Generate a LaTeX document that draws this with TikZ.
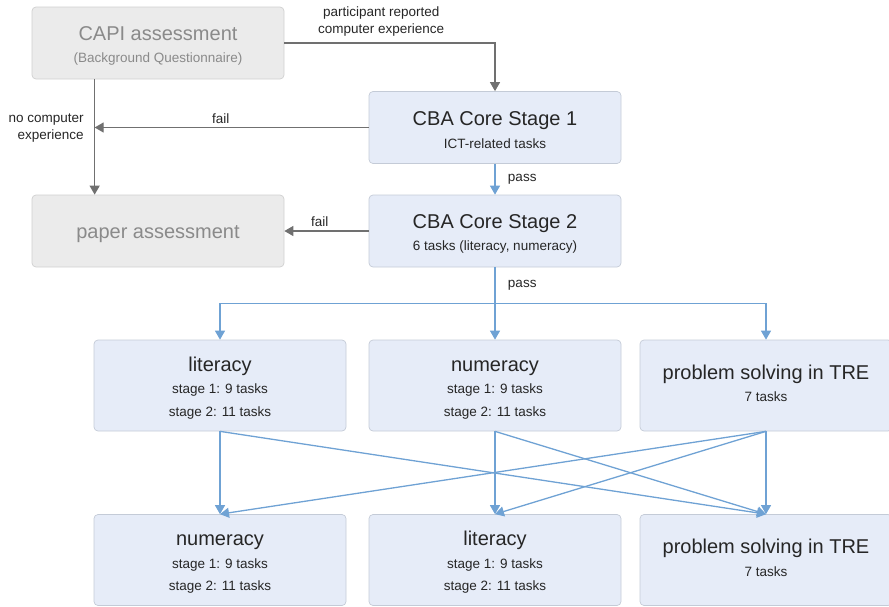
\documentclass[tikz,border=0pt]{standalone}
\usepackage{fontspec}
\setmainfont{Liberation Sans}
\usetikzlibrary{arrows.meta}

\definecolor{boxblue}{RGB}{230,236,248}
\definecolor{boxblueline}{RGB}{196,203,215}
\definecolor{boxgray}{RGB}{235,235,235}
\definecolor{boxgrayline}{RGB}{208,208,208}
\definecolor{txtgray}{RGB}{138,138,138}
\definecolor{arrowgray}{RGB}{112,112,112}
\definecolor{arrowblue}{RGB}{111,162,212}

\newcommand{\titlesize}{\fontsize{20}{22}\selectfont}
\newcommand{\subsize}{\fontsize{13.5}{22.5}\selectfont}
\newcommand{\labelsize}{\fontsize{13.5}{17}\selectfont}
\newcommand{\boxtitle}[1]{{\titlesize\rule{0pt}{19.5pt}#1}}
\newcommand{\lowpad}{\rule[-10pt]{0pt}{10pt}}

\begin{document}
\begin{tikzpicture}[x=1pt, y=-1pt,
		box/.style={rounded corners=4pt, minimum width=252pt, minimum height=72pt, inner sep=0pt, align=center, font=\subsize, line width=0.7pt},
		graybox/.style={box, draw=boxgrayline, fill=boxgray, text=txtgray},
		bluebox/.style={box, draw=boxblueline, fill=boxblue, text=black!85},
		tallbox/.style={bluebox, minimum height=91pt},
		grayarrow/.style={draw=arrowgray, line width=1.3pt, -{Triangle[length=9pt, width=10pt]}},
		bluearrow/.style={draw=arrowblue, line width=1.3pt, -{Triangle[length=9pt, width=10pt]}},
		lbl/.style={font=\labelsize, text=black!85, align=center}]
		\useasboundingbox (0,0) rectangle (889,606);
		
		% top part
		\node[graybox] (capi) at (158,43) {\boxtitle{CAPI assessment}\\(Background Questionnaire)};
		\node[graybox] (paper) at (158,231) {\boxtitle{paper assessment}};
		\node[bluebox] (core1) at (495,127.5) {\boxtitle{CBA Core Stage 1}\\ICT-related tasks};
		\node[bluebox] (core2) at (495,231) {\boxtitle{CBA Core Stage 2}\\6 tasks (literacy, numeracy)};
		
		% modules
		\node[tallbox] (lit1) at (220,385.5) {\boxtitle{literacy}\\stage 1: 9 tasks\\stage 2: 11 tasks};
		\node[tallbox] (num1) at (495,385.5) {\boxtitle{numeracy}\\stage 1: 9 tasks\\stage 2: 11 tasks};
		\node[tallbox] (ps1) at (766,385.5) {\boxtitle{problem solving in TRE}\\7 tasks\lowpad};
		\node[tallbox] (num2) at (220,560) {\boxtitle{numeracy}\\stage 1: 9 tasks\\stage 2: 11 tasks};
		\node[tallbox] (lit2) at (495,560) {\boxtitle{literacy}\\stage 1: 9 tasks\\stage 2: 11 tasks};
		\node[tallbox] (ps2) at (766,560) {\boxtitle{problem solving in TRE}\\7 tasks\lowpad};
		
		\coordinate (split) at ([xshift=63pt]capi.south west);
		
		\draw[grayarrow] (capi.east) -| node[lbl, above, pos=0.23, yshift=3pt] {participant reported\\computer experience} (core1.north);
		\draw[grayarrow] (split) -- node[lbl, left, align=right, pos=0.42, xshift=-7pt] {no computer\\experience} (split |- paper.north);
		\draw[grayarrow] (core1.west) -- node[lbl, above, pos=0.54] {fail} (core1.west -| split);
		\draw[grayarrow] (core2.west) -- node[lbl, above, pos=0.58] {fail} (paper.east);
		\draw[bluearrow] (core1.south) -- node[lbl, right, xshift=9pt] {pass} (core2.north);
		
		\draw[draw=arrowblue, line width=1.3pt] (core2.south) -- node[lbl, right, xshift=9pt] {pass} ++(0,36) coordinate (fork);
		\draw[draw=arrowblue, line width=1.3pt] (fork -| lit1) -- (fork -| ps1);
		\foreach \n in {lit1, num1, ps1}
		{
			\draw[bluearrow] (fork -| \n) -- (\n.north);
		}
		
		\foreach \a/\b in {lit1/num2, lit1/ps2, num1/lit2, num1/ps2, ps1/num2, ps1/lit2, ps1/ps2}
		{
			\draw[bluearrow] (\a.south) -- (\b.north);
		}
	\end{tikzpicture}
\end{document}
